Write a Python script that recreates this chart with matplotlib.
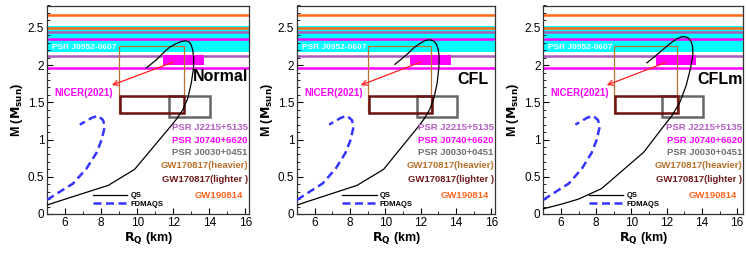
import matplotlib
matplotlib.use("Agg")
import matplotlib.pyplot as plt
from matplotlib.patches import Rectangle
from matplotlib.ticker import MultipleLocator

plt.rcParams['font.family'] = ['Liberation Sans', 'DejaVu Sans']

# ---------------- data ----------------
panel_names = ["Normal", "CFL", "CFLm"]

# QS curves (R in km, M in Msun)
qs_R = [
    [5.0, 5.5, 8.4, 9.86, 11.83, 12.2, 12.53, 12.8, 13.0, 13.12, 13.14, 13.08, 13.0, 12.88, 12.72, 12.5, 12.17, 11.8, 11.52, 11.06, 10.5],
    [5.0, 5.5, 8.4, 9.9, 11.85, 12.2, 12.5, 12.75, 12.93, 13.02, 13.04, 12.98, 12.88, 12.72, 12.5, 12.25, 11.95, 11.6, 11.3, 10.9, 10.54],
    [5.0, 6.0, 7.0, 8.3, 10.7, 11.8, 12.3, 12.75, 13.1, 13.35, 13.49, 13.47, 13.4, 13.25, 13.05, 12.86, 12.55, 12.2, 11.8, 11.3, 10.88],
]
qs_M = [
    [0.12, 0.16, 0.385, 0.60, 1.17, 1.28, 1.40, 1.55, 1.76, 1.95, 2.09, 2.20, 2.27, 2.31, 2.325, 2.32, 2.29, 2.24, 2.18, 2.07, 1.96],
    [0.12, 0.16, 0.385, 0.60, 1.17, 1.28, 1.40, 1.56, 1.76, 1.96, 2.12, 2.22, 2.28, 2.325, 2.34, 2.33, 2.29, 2.23, 2.16, 2.08, 2.01],
    [0.07, 0.13, 0.20, 0.34, 0.83, 1.17, 1.32, 1.50, 1.72, 1.95, 2.14, 2.25, 2.31, 2.36, 2.38, 2.38, 2.35, 2.29, 2.21, 2.11, 2.03],
]
fdm_R = [5.0, 5.72, 6.45, 7.19, 7.74, 8.02, 8.2, 8.11, 7.83, 7.47, 6.82]
fdm_M = [0.19, 0.30, 0.41, 0.61, 0.82, 0.99, 1.17, 1.26, 1.32, 1.29, 1.20]

# observational constraints
gw190814_M = [2.50, 2.67]
j0952_M = [2.18, 2.52]
j2215_M = [2.12, 2.44]
j0740_M = [1.96, 2.35]
nicer_R = [11.41, 13.69]
nicer_M = [2.006, 2.138]
nicer_arrow_from = [12.0, 2.04]
nicer_arrow_to = [8.6, 1.73]
gw_heavy_R = [9.0, 12.6]
gw_heavy_M = [1.36, 2.26]
gw_light_R = [9.07, 12.62]
gw_light_M = [1.36, 1.59]
j0030_R = [11.76, 14.04]
j0030_M = [1.30, 1.59]

label_texts = ["PSR J2215+5135", "PSR J0740+6620", "PSR J0030+0451",
               "GW170817(heavier)", "GW170817(lighter )", "GW190814"]
label_colors = ["#b45cc4", "#ff00ff", "#707070", "#b8702a", "#6e1a1a", "#ff6420"]
label_M = [1.165, 0.985, 0.82, 0.65, 0.47, 0.255]

xticks = [6, 8, 10, 12, 14, 16]
yticks = [0, 0.5, 1, 1.5, 2, 2.5]
ytick_labels = ["0", "0.5", "1", "1.5", "2", "2.5"]

# ---------------- layout ----------------
W, H = 747, 254
fig = plt.figure(figsize=(W / 100, H / 100), dpi=100)
ax_px = [(47, 202, 16.2), (297, 198, 16.2), (543.3, 200, 16.35)]
top_px, bot_px = 5.5, 214
name_pos = [(0.995, 1.84), (0.965, 1.81), (0.995, 1.80)]

c_orange = "#ff6a13"
c_purple = "#a85cba"
c_mag = "#ff00ff"

for i, (lpx, wpx, xmax) in enumerate(ax_px):
    ax = fig.add_axes([lpx / W, (H - bot_px) / H, wpx / W, (bot_px - top_px) / H])
    ax.set_xlim(5, xmax)
    ax.set_ylim(0, 2.8)

    # bands & lines
    ax.axhspan(j0952_M[0], j0952_M[1], color="#00ffff", lw=0, zorder=1)
    for m in gw190814_M:
        ax.axhline(m, color=c_orange, lw=1.8, zorder=2)
    for m in j2215_M:
        ax.axhline(m, color=c_purple, lw=1.8, zorder=2)
    for m in j0740_M:
        ax.axhline(m, color=c_mag, lw=1.8, zorder=2)

    ax.text(0.025, j0952_M[0] + 0.055, "PSR J0952-0607", transform=ax.get_yaxis_transform(),
            color="white", fontsize=6, fontweight="bold", va="center", ha="left", zorder=5)

    # rectangles
    ax.add_patch(Rectangle((nicer_R[0], nicer_M[0]), nicer_R[1] - nicer_R[0], nicer_M[1] - nicer_M[0],
                           facecolor=c_mag, edgecolor="none", zorder=3))
    ax.add_patch(Rectangle((gw_heavy_R[0], gw_heavy_M[0]), gw_heavy_R[1] - gw_heavy_R[0],
                           gw_heavy_M[1] - gw_heavy_M[0], fill=False, edgecolor="#b8732e", lw=0.9, zorder=3))
    ax.add_patch(Rectangle((j0030_R[0], j0030_M[0]), j0030_R[1] - j0030_R[0], j0030_M[1] - j0030_M[0],
                           fill=False, edgecolor="#666666", lw=1.8, zorder=3))
    ax.add_patch(Rectangle((gw_light_R[0], gw_light_M[0]), gw_light_R[1] - gw_light_R[0],
                           gw_light_M[1] - gw_light_M[0], fill=False, edgecolor="#6b1414", lw=1.8, zorder=3))

    # NICER arrow
    ax.annotate("", xy=(nicer_arrow_to[0], nicer_arrow_to[1]),
                xytext=(nicer_arrow_from[0], nicer_arrow_from[1]),
                arrowprops=dict(arrowstyle="->", color="#ff2020", lw=0.9, mutation_scale=9,
                                shrinkA=0, shrinkB=0), zorder=6)
    ax.text(0.035, 1.63, "NICER(2021)", transform=ax.get_yaxis_transform(), color=c_mag,
            fontsize=7, fontweight="bold", va="center", ha="left", zorder=6)

    # curves
    l1, = ax.plot(qs_R[i], qs_M[i], color="black", lw=0.9, zorder=4, label="QS")
    l2, = ax.plot(fdm_R, fdm_M, color="#3535ff", lw=1.8, ls=(0, (3.2, 1.8)), zorder=4, label="FDMAQS")

    # right side labels
    for t, c, m in zip(label_texts, label_colors, label_M):
        xr = 0.97 if t == "GW190814" else 0.994
        ax.text(xr, m, t, transform=ax.get_yaxis_transform(), color=c, fontsize=6.8,
                fontweight="bold", ha="right", va="center", zorder=6)

    ax.text(name_pos[i][0], name_pos[i][1], panel_names[i], transform=ax.get_yaxis_transform(),
            fontsize=11.5, fontweight="bold", ha="right", va="center", zorder=6)

    leg = ax.legend(handles=[l1, l2], loc="lower left", bbox_to_anchor=(0.228, 0.03),
                    frameon=False, fontsize=5.5, handlelength=4.5, handletextpad=0.4,
                    labelspacing=0.15, borderpad=0, borderaxespad=0)
    for t in leg.get_texts():
        t.set_fontweight("bold")

    ax.set_xticks(xticks)
    ax.set_yticks(yticks)
    ax.set_yticklabels(ytick_labels)
    ax.xaxis.set_minor_locator(MultipleLocator(1))
    ax.yaxis.set_minor_locator(MultipleLocator(0.1))
    ax.tick_params(which="both", direction="in", top=False, right=False, labelsize=8.5, pad=2)
    ax.tick_params(which="major", length=4, width=0.8)
    ax.tick_params(which="minor", length=2, width=0.6)
    for s in ax.spines.values():
        s.set_color("#333333")
        s.set_linewidth(0.9)
    ax.set_xlabel(r"$\mathbf{R_Q}$ (km)", fontsize=9, fontweight="bold", labelpad=1)
    ax.set_ylabel(r"M ($\mathbf{M_{sun}}$)", fontsize=9, fontweight="bold", labelpad=2)

fig.savefig("out.png", dpi=100)
